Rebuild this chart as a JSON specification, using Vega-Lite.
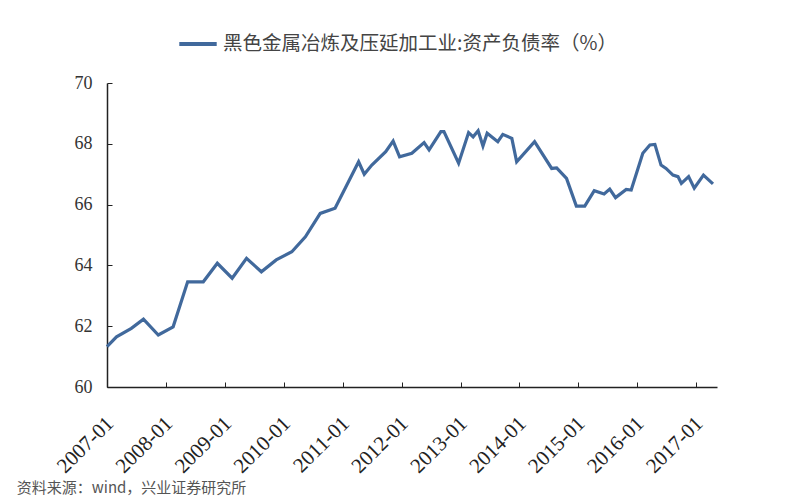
{
  "$schema": "https://vega.github.io/schema/vega-lite/v6.json",
  "width": 610,
  "height": 304,
  "autosize": {"type": "none"},
  "padding": {"left": 107, "top": 83, "right": 83, "bottom": 113},
  "background": "white",
  "title": {
    "text": "资料来源：wind，兴业证券研究所",
    "orient": "bottom",
    "anchor": "start",
    "offset": 4,
    "dx": -36,
    "font": "Noto Sans CJK SC",
    "fontSize": 15,
    "fontWeight": "normal",
    "color": "#555"
  },
  "data": {
    "values": [
      {"date": "2007-01-01", "v": 61.33},
      {"date": "2007-03-01", "v": 61.65},
      {"date": "2007-06-01", "v": 61.93},
      {"date": "2007-08-15", "v": 62.23},
      {"date": "2007-11-15", "v": 61.71},
      {"date": "2008-02-15", "v": 61.98},
      {"date": "2008-05-15", "v": 63.46},
      {"date": "2008-08-20", "v": 63.46},
      {"date": "2008-11-15", "v": 64.07},
      {"date": "2009-02-15", "v": 63.58},
      {"date": "2009-05-15", "v": 64.23},
      {"date": "2009-08-15", "v": 63.79},
      {"date": "2009-11-15", "v": 64.18},
      {"date": "2010-02-20", "v": 64.45},
      {"date": "2010-05-15", "v": 64.94},
      {"date": "2010-08-15", "v": 65.71},
      {"date": "2010-11-15", "v": 65.88},
      {"date": "2011-04-10", "v": 67.41},
      {"date": "2011-05-15", "v": 67.0},
      {"date": "2011-07-01", "v": 67.30},
      {"date": "2011-09-25", "v": 67.74},
      {"date": "2011-11-10", "v": 68.09},
      {"date": "2011-12-20", "v": 67.57},
      {"date": "2012-03-05", "v": 67.69},
      {"date": "2012-05-20", "v": 68.04},
      {"date": "2012-06-20", "v": 67.80},
      {"date": "2012-09-01", "v": 68.40},
      {"date": "2012-09-20", "v": 68.40},
      {"date": "2012-12-20", "v": 67.36},
      {"date": "2013-02-20", "v": 68.37},
      {"date": "2013-03-20", "v": 68.23},
      {"date": "2013-04-20", "v": 68.43},
      {"date": "2013-05-20", "v": 67.93},
      {"date": "2013-06-15", "v": 68.35},
      {"date": "2013-08-20", "v": 68.07},
      {"date": "2013-09-20", "v": 68.31},
      {"date": "2013-11-15", "v": 68.18},
      {"date": "2013-12-15", "v": 67.41},
      {"date": "2014-04-05", "v": 68.07},
      {"date": "2014-07-20", "v": 67.19},
      {"date": "2014-08-20", "v": 67.21},
      {"date": "2014-10-20", "v": 66.86},
      {"date": "2014-12-20", "v": 65.95},
      {"date": "2015-02-10", "v": 65.95},
      {"date": "2015-04-10", "v": 66.46},
      {"date": "2015-06-10", "v": 66.35},
      {"date": "2015-07-15", "v": 66.51},
      {"date": "2015-08-20", "v": 66.23},
      {"date": "2015-10-25", "v": 66.50},
      {"date": "2015-11-25", "v": 66.48},
      {"date": "2016-02-05", "v": 67.69},
      {"date": "2016-03-20", "v": 67.96},
      {"date": "2016-04-20", "v": 67.98},
      {"date": "2016-05-28", "v": 67.30},
      {"date": "2016-06-28", "v": 67.19},
      {"date": "2016-08-10", "v": 66.97},
      {"date": "2016-09-10", "v": 66.92},
      {"date": "2016-10-01", "v": 66.70},
      {"date": "2016-11-15", "v": 66.92},
      {"date": "2016-12-20", "v": 66.54},
      {"date": "2017-02-15", "v": 66.97},
      {"date": "2017-04-15", "v": 66.68}
    ]
  },
  "mark": {"type": "line", "strokeWidth": 3.2, "strokeJoin": "miter"},
  "encoding": {
    "x": {
      "field": "date",
      "type": "temporal",
      "scale": {"type": "utc", "domain": ["2007-01-01", "2017-05-10"]},
      "axis": {
        "title": null,
        "values": ["2007-01-01", "2008-01-01", "2009-01-01", "2010-01-01", "2011-01-01", "2012-01-01", "2013-01-01", "2014-01-01", "2015-01-01", "2016-01-01", "2017-01-01"],
        "format": "%Y-%m",
        "labelAngle": -45,
        "labelAlign": "right",
        "labelBaseline": "middle",
        "labelFont": "Liberation Serif",
        "labelFontSize": 21,
        "labelColor": "#222",
        "labelPadding": 38,
        "labelOffset": 3,
        "labelOverlap": false,
        "labelBound": false,
        "labelFlush": false,
        "tickSize": -5,
        "tickColor": "#222",
        "domainColor": "#222",
        "domainWidth": 1.5,
        "grid": false
      }
    },
    "y": {
      "field": "v",
      "type": "quantitative",
      "scale": {"domain": [60, 70], "zero": false, "nice": false},
      "axis": {
        "title": null,
        "values": [60, 62, 64, 66, 68, 70],
        "labelFont": "Liberation Serif",
        "labelFontSize": 18,
        "labelColor": "#333",
        "labelPadding": 20,
        "tickSize": -5,
        "tickColor": "#222",
        "domainColor": "#222",
        "domainWidth": 1.5,
        "grid": false
      }
    },
    "color": {
      "datum": "黑色金属冶炼及压延加工业:资产负债率（%）",
      "type": "nominal",
      "scale": {"range": ["#41699c"]},
      "legend": {
        "title": null,
        "orient": "none",
        "legendX": 70,
        "legendY": -60,
        "symbolType": "stroke",
        "symbolSize": 1400,
        "symbolStrokeWidth": 4,
        "labelFont": "Noto Sans CJK SC",
        "labelFontSize": 19.5,
        "labelColor": "#444",
        "labelLimit": 600
      }
    }
  },
  "config": {"view": {"stroke": null}}
}
